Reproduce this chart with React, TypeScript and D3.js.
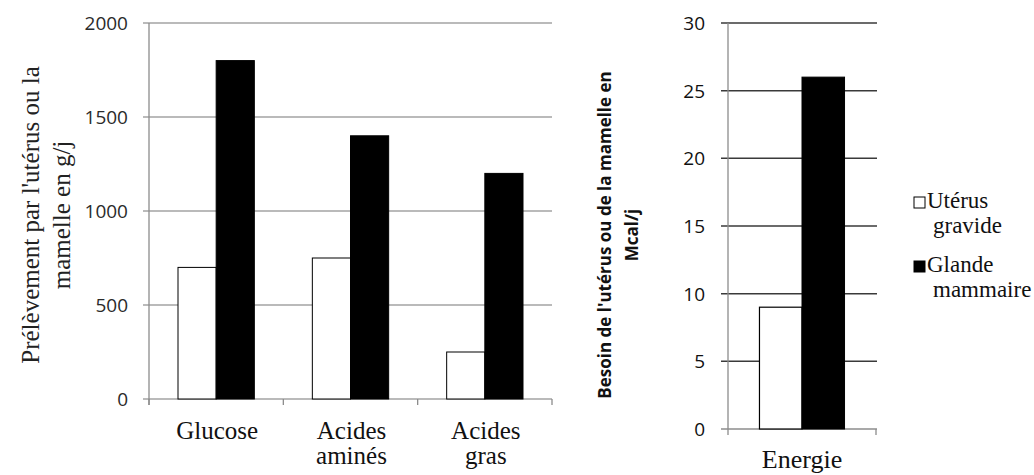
import React from "react";
import * as d3 from "d3";

const nutrientCategories = [["Glucose"], ["Acides", "aminés"], ["Acides", "gras"]];
const nutrientKeys = ["Glucose", "Acides aminés", "Acides gras"];
const uterusNutrients = [700, 750, 250];
const mammaryNutrients = [1800, 1400, 1200];
const nutrientTicks = [0, 500, 1000, 1500, 2000];

const energyCategories = ["Energie"];
const uterusEnergy = [9];
const mammaryEnergy = [26];
const energyTicks = [0, 5, 10, 15, 20, 25, 30];

const seriesNames = [["Utérus", "gravide"], ["Glande", "mammaire"]];
const seriesFills = ["#ffffff", "#000000"];

const W = 1034;
const H = 475;
const serif = "'Liberation Serif', 'Times New Roman', serif";
const sans = "'Open Sans', 'DejaVu Sans', sans-serif";

export default function App() {
  // left chart
  const lx = d3.scaleBand<string>().domain(nutrientKeys).range([149, 552]).paddingInner(0).paddingOuter(0);
  const ly = d3.scaleLinear().domain([0, 2000]).range([399, 23]);
  const lInner = d3.scaleBand<string>().domain(["u", "m"]).range([0, lx.bandwidth()]).paddingOuter(0.76).paddingInner(0);

  // right chart
  const rx = d3.scaleBand<string>().domain(energyCategories).range([728, 876]);
  const ry = d3.scaleLinear().domain([0, 30]).range([429, 23]);
  const rInner = d3.scaleBand<string>().domain(["u", "m"]).range([0, rx.bandwidth()]).paddingOuter(0.74).paddingInner(0);

  const leftTickXs = [149, ...nutrientKeys.map((k) => (lx(k) as number) + lx.bandwidth())];

  return (
    <svg width={W} height={H} style={{ display: "block", position: "absolute", left: 0, top: 0, background: "#fff" }}>
      <rect x={0} y={0} width={W} height={H} fill="#fff" />
      {/* LEFT CHART */}
      {nutrientTicks.map((t) => (
        <line key={"lg" + t} x1={143} x2={552} y1={ly(t)} y2={ly(t)} stroke="#a3a3a3" strokeWidth={1.3} />
      ))}
      <line x1={149} x2={149} y1={ly(2000)} y2={ly(0) + 6} stroke="#8c8c8c" strokeWidth={1.3} />
      {leftTickXs.map((x, i) => (
        <line key={"lt" + i} x1={x} x2={x} y1={ly(0)} y2={ly(0) + 6} stroke="#8c8c8c" strokeWidth={1.3} />
      ))}
      {nutrientKeys.map((k, i) => {
        const x0 = lx(k) as number;
        return (
          <g key={k}>
            <rect x={x0 + (lInner("u") as number)} y={ly(uterusNutrients[i])} width={lInner.bandwidth()}
              height={ly(0) - ly(uterusNutrients[i])} fill={seriesFills[0]} stroke="#000" strokeWidth={1} />
            <rect x={x0 + (lInner("m") as number)} y={ly(mammaryNutrients[i])} width={lInner.bandwidth()}
              height={ly(0) - ly(mammaryNutrients[i])} fill={seriesFills[1]} stroke="#000" strokeWidth={1} />
          </g>
        );
      })}
      {nutrientTicks.map((t) => (
        <text key={"ll" + t} x={128} y={ly(t)} dy="0.36em" textAnchor="end" fontFamily={sans} fontSize={19} fill="#2a2a2a">
          {t}
        </text>
      ))}
      {nutrientCategories.map((lines, i) => (
        <text key={"lc" + i} x={(lx(nutrientKeys[i]) as number) + lx.bandwidth() / 2 + 1} y={439}
          textAnchor="middle" fontFamily={serif} fontSize={25} fill="#111">
          {lines.map((l, j) => (
            <tspan key={j} x={(lx(nutrientKeys[i]) as number) + lx.bandwidth() / 2 + 1} dy={j === 0 ? 0 : 25}>{l}</tspan>
          ))}
        </text>
      ))}
      <text transform={`translate(30,215) rotate(-90)`} textAnchor="middle" fontFamily={serif} fontSize={25} fill="#222">
        <tspan x={0} dy="0.35em">Prélèvement par l'utérus ou la</tspan>
        <tspan x={0} dy={31}>mamelle en g/j</tspan>
      </text>

      {/* RIGHT CHART */}
      {energyTicks.map((t) => (
        <line key={"rg" + t} x1={721} x2={877} y1={ry(t)} y2={ry(t)} stroke={t === 0 ? "#8c8c8c" : "#3a3a3a"} strokeWidth={1.5} />
      ))}
      <line x1={728} x2={728} y1={ry(30)} y2={ry(0) + 6} stroke="#8c8c8c" strokeWidth={1.3} />
      <line x1={876} x2={876} y1={ry(0)} y2={ry(0) + 6} stroke="#8c8c8c" strokeWidth={1.3} />
      {energyCategories.map((k, i) => {
        const x0 = rx(k) as number;
        return (
          <g key={k}>
            <rect x={x0 + (rInner("u") as number)} y={ry(uterusEnergy[i])} width={rInner.bandwidth()}
              height={ry(0) - ry(uterusEnergy[i])} fill={seriesFills[0]} stroke="#000" strokeWidth={1.2} />
            <rect x={x0 + (rInner("m") as number)} y={ry(mammaryEnergy[i])} width={rInner.bandwidth()}
              height={ry(0) - ry(mammaryEnergy[i])} fill={seriesFills[1]} stroke="#000" strokeWidth={1} />
          </g>
        );
      })}
      {energyTicks.map((t) => (
        <text key={"rl" + t} x={705} y={ry(t)} dy="0.36em" textAnchor="end" fontFamily={sans} fontSize={19} fill="#111">
          {t}
        </text>
      ))}
      {energyCategories.map((k) => (
        <text key={"rc" + k} x={(rx(k) as number) + rx.bandwidth() / 2} y={468} textAnchor="middle"
          fontFamily={serif} fontSize={26} fill="#111">{k}</text>
      ))}
      <text transform={`translate(605,235) rotate(-90)`} textAnchor="middle" fontFamily={sans} fontWeight="bold" fontSize={17} fill="#111">
        <tspan x={0} dy="0.35em">Besoin de l'utérus ou de la mamelle en</tspan>
        <tspan x={0} dy={27}>Mcal/j</tspan>
      </text>

      {/* LEGEND */}
      {seriesNames.map((lines, i) => {
        const y0 = 208 + i * 64;
        return (
          <g key={"lg" + i}>
            <rect x={914} y={y0 - 11} width={11} height={11} fill={seriesFills[i]} stroke="#000" strokeWidth={1} />
            <text x={927} y={y0} fontFamily={serif} fontSize={23} fill="#111">{lines[0]}</text>
            <text x={933} y={y0 + 25} fontFamily={serif} fontSize={23} fill="#111">{lines[1]}</text>
          </g>
        );
      })}
    </svg>
  );
}
